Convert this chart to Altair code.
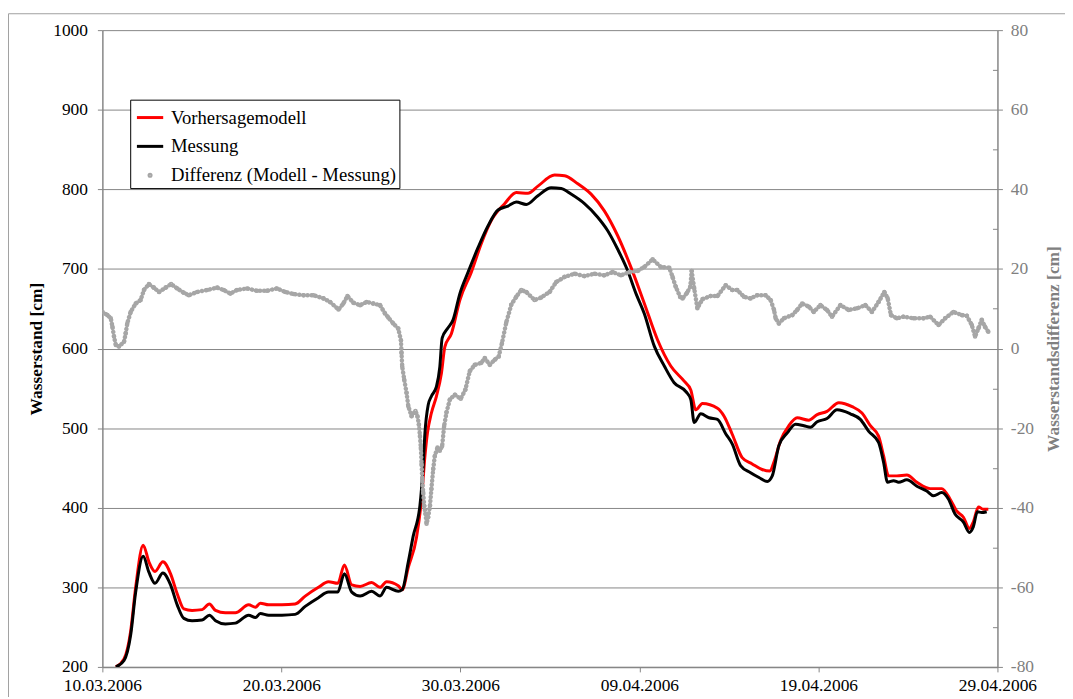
import altair as alt
import pandas as pd

# ---------------- data ----------------
TICK_DAYS = [0, 10, 20, 30, 40, 50]
TICK_LABELS = ["10.03.2006", "20.03.2006", "30.03.2006", "09.04.2006", "19.04.2006", "29.04.2006"]
LEFT_TICKS = [200, 300, 400, 500, 600, 700, 800, 900, 1000]
RIGHT_TICKS = [-80, -60, -40, -20, 0, 20, 40, 60, 80]
RIGHT_MINOR = [-70, -50, -30, -10, 10, 30, 50, 70]

SERIES = ["Vorhersagemodell", "Messung", "Differenz (Modell - Messung)"]
COLORS = ["#ff0000", "#000000", "#a6a6a6"]

# days since 10.03.2006
MOD_DAY = [0.75, 1.21, 1.58, 1.86, 2.28, 2.60, 2.94, 3.38, 3.81, 4.18, 4.55, 5.01, 5.57, 5.98, 6.32,
           6.87, 7.43, 8.17, 8.55, 8.82, 9.29, 10.03, 10.77, 11.33, 12.07, 12.63, 13.15, 13.52, 13.93,
           14.40, 15.04, 15.51, 15.88, 16.53, 16.75, 17.09, 17.55, 17.83, 18.02, 18.16, 18.38, 18.66,
           18.94, 19.13, 19.50, 19.97, 20.61, 21.17, 21.73, 22.47, 23.12, 23.77, 24.33, 25.26, 25.82,
           26.56, 27.30, 28.04, 28.78, 29.53, 30.27, 31.01, 31.75, 32.50, 32.87, 33.15, 33.52, 34.36,
           34.73, 35.19, 35.74, 36.30, 36.85, 37.29, 37.51, 37.88, 38.35, 38.81, 39.46, 39.93, 40.48,
           41.14, 41.88, 42.43, 42.90, 43.36, 43.64, 43.92, 44.38, 44.94, 45.50, 46.24, 46.89, 47.35,
           47.72, 48.10, 48.43, 48.65, 48.94, 49.21, 49.49]
MOD_VAL = [200, 210, 245, 300, 353, 332, 320, 332, 317, 292, 273, 271, 272, 279, 271,
           268, 268, 278, 275, 280, 278, 278, 279, 289, 300, 307, 305, 328, 303,
           301, 306, 300, 307, 302, 297, 325, 363, 411, 465, 494, 519, 540,
           569, 602, 619, 661, 696, 732, 761, 782, 796, 795, 804, 818, 817,
           807, 794, 773, 742, 702, 657, 611, 578, 559, 548, 523, 531, 525,
           515, 492, 463, 455, 448, 446, 457, 484, 503, 513, 510, 517, 521,
           532, 527, 519, 503, 490, 465, 440, 440, 441, 432, 424, 424, 411,
           396, 388, 374, 382, 401, 398, 398]

MES_DAY = [0.75, 1.21, 1.58, 1.86, 2.28, 2.60, 2.94, 3.38, 3.81, 4.18, 4.55, 5.01, 5.57, 5.98, 6.32,
           6.87, 7.43, 8.17, 8.55, 8.82, 9.29, 10.03, 10.77, 11.33, 12.07, 12.63, 13.15, 13.52, 13.93,
           14.40, 15.04, 15.51, 15.88, 16.53, 16.75, 17.09, 17.36, 17.74, 17.92, 18.02, 18.20, 18.38,
           18.66, 18.85, 18.98, 19.31, 19.59, 19.97, 20.43, 20.99, 21.54, 22.10, 22.66, 23.12, 23.68,
           24.33, 25.07, 25.63, 26.18, 26.93, 27.67, 28.23, 28.78, 29.34, 29.81, 30.27, 30.83, 31.39,
           31.94, 32.59, 32.87, 33.06, 33.43, 33.89, 34.36, 34.82, 35.19, 35.65, 36.21, 36.68, 37.14,
           37.42, 37.79, 38.26, 38.72, 39.19, 39.55, 39.93, 40.48, 41.04, 41.78, 42.34, 42.81, 43.36,
           43.64, 43.86, 44.20, 44.48, 44.94, 45.50, 46.05, 46.43, 46.89, 47.26, 47.63, 48.10, 48.43,
           48.65, 48.88, 49.12, 49.40]
MES_VAL = [200, 208, 240, 294, 339, 319, 305, 318, 303, 278, 261, 258, 259, 265, 258,
           254, 255, 265, 262, 267, 265, 265, 266, 276, 287, 294, 294, 317, 294,
           289, 295, 289, 300, 295, 297, 332, 364, 403, 453, 494, 529, 540,
           552, 577, 613, 626, 636, 669, 696, 727, 754, 774, 779, 784, 781,
           792, 802, 801, 794, 782, 765, 748, 725, 698, 669, 644, 603, 578,
           557, 546, 536, 507, 518, 513, 511, 493, 480, 453, 444, 438, 433,
           440, 478, 494, 505, 503, 501, 508, 512, 523, 518, 511, 496, 482,
           457, 432, 434, 432, 435, 427, 421, 415, 419, 411, 392, 382, 369,
           376, 395, 394, 395]

DIF_DAY = [0.00, 0.28, 0.47, 0.56, 0.65, 0.75, 0.93, 1.21, 1.30, 1.39, 1.58, 1.86, 2.14, 2.32, 2.60,
           2.88, 3.16, 3.53, 3.84, 4.18, 4.55, 4.83, 5.29, 5.85, 6.41, 6.78, 7.15, 7.52, 8.08, 8.64,
           9.19, 9.75, 10.22, 10.68, 11.24, 11.79, 12.35, 12.72, 13.19, 13.46, 13.69, 14.02, 14.40,
           14.76, 15.14, 15.51, 15.79, 15.97, 16.25, 16.53, 16.68, 16.71, 16.75, 16.86, 16.99, 17.09,
           17.27, 17.49, 17.60, 17.68, 17.74, 17.79, 17.83, 17.87, 17.92, 17.98, 18.05, 18.11, 18.20,
           18.30, 18.38, 18.48, 18.57, 18.72, 18.85, 18.98, 19.09, 19.22, 19.41, 19.69, 20.02, 20.28,
           20.52, 20.80, 21.17, 21.36, 21.64, 21.92, 22.14, 22.32, 22.56, 22.84, 23.12, 23.40, 23.68,
           24.14, 24.51, 24.98, 25.35, 25.82, 26.37, 26.93, 27.49, 28.04, 28.51, 28.97, 29.44, 29.90,
           30.27, 30.74, 31.20, 31.67, 31.85, 32.03, 32.27, 32.41, 32.66, 32.84, 32.92, 33.06, 33.24,
           33.52, 33.98, 34.36, 34.82, 35.19, 35.47, 35.84, 36.21, 36.58, 37.05, 37.33, 37.52, 37.61,
           37.79, 38.07, 38.54, 38.81, 39.09, 39.47, 39.74, 40.11, 40.48, 40.76, 41.23, 41.69, 42.16,
           42.62, 42.99, 43.36, 43.68, 43.87, 44.05, 44.38, 44.75, 45.31, 45.87, 46.24, 46.71, 47.08,
           47.54, 48.01, 48.29, 48.57, 48.75, 48.94, 49.12, 49.30, 49.49]
DIF_VAL = [9.2, 8.4, 7.6, 5.5, 3.0, 0.9, 0.5, 1.7, 3.8, 6.3, 9.2, 11.3, 12.2, 14.7, 16.2,
           15.3, 14.2, 15.3, 16.2, 15.1, 14.0, 13.4, 14.2, 14.7, 15.3, 14.7, 13.8, 14.7, 15.1, 14.5,
           14.5, 15.1, 14.2, 13.7, 13.4, 13.4, 12.6, 11.7, 9.8, 11.3, 13.2, 11.5, 10.9,
           11.7, 11.3, 10.9, 8.8, 7.8, 6.3, 5.0, 2.0, -1.1, -4.5, -7.8, -11.1, -14.5,
           -17.0, -15.7, -17.0, -19.1, -22.0, -24.9, -29.0, -32.8, -36.1, -39.5, -41.5, -44.0, -42.4,
           -39.5, -35.3, -30.3, -27.0, -24.9, -25.7, -24.5, -19.5, -16.1, -12.8, -11.6, -12.6, -10.3,
           -5.7, -4.1, -3.6, -2.4, -4.1, -2.8, -2.0, 1.3, 6.5, 11.0, 13.0, 14.7, 14.2,
           12.2, 12.8, 14.2, 16.7, 18.0, 18.8, 18.2, 18.8, 18.4, 19.2, 18.4, 19.2, 19.5,
           20.5, 22.4, 20.5, 20.3, 18.0, 15.5, 13.0, 12.6, 14.0, 15.5, 19.5, 15.1, 10.1,
           12.4, 13.2, 13.2, 15.9, 14.7, 14.7, 13.0, 12.6, 13.4, 13.4, 12.2, 9.7, 7.6,
           6.3, 7.6, 8.4, 9.7, 11.3, 10.5, 9.2, 10.9, 9.7, 8.0, 10.9, 9.7, 10.1,
           10.9, 9.2, 11.7, 14.2, 12.6, 8.4, 7.6, 8.0, 7.6, 7.6, 8.0, 5.9, 7.6,
           9.2, 8.4, 8.2, 5.9, 3.0, 5.1, 7.2, 5.5, 4.2]

# ---------------- tables ----------------
mod_df = pd.DataFrame({"day": MOD_DAY, "value": MOD_VAL, "series": SERIES[0]})
mes_df = pd.DataFrame({"day": MES_DAY, "value": MES_VAL, "series": SERIES[1]})
dif_df = pd.DataFrame({"day": DIF_DAY, "diff": DIF_VAL, "series": SERIES[2]})
frame_df = pd.DataFrame({"k": [0]})

# ---------------- styling ----------------
FONT = "Liberation Serif"
FS = 17.5
AXIS_GRAY = "#868686"
RIGHT_GRAY = "#808080"
W, H = 901, 641

LINE_SHAPE = "M-1,0H1"
DOT_SHAPE = "M0.08,0A0.08,0.08,0,1,1,-0.08,0A0.08,0.08,0,1,1,0.08,0Z"

x_label_expr = "[" + ",".join("'%s'" % s for s in TICK_LABELS) + "][round(datum.value / 10)]"
num_label_expr = "'' + datum.value"

x_enc = alt.X(
    "day:Q",
    scale=alt.Scale(domain=[0, 50], nice=False, zero=False),
    axis=alt.Axis(values=TICK_DAYS, labelExpr=x_label_expr, title=None, grid=False,
                  tickSize=5, tickColor=AXIS_GRAY, domainColor=AXIS_GRAY, domainWidth=1.5,
                  labelFont=FONT, labelFontSize=FS, labelColor="black", labelPadding=5,
                  labelFlush=False, labelOverlap=False),
)

legend = alt.Legend(
    title=None, orient="none", legendX=28, legendY=70,
    fillColor="white", strokeColor="black",
    padding=3, rowPadding=4, symbolSize=700, symbolStrokeWidth=3,
    symbolOffset=2, labelOffset=6, symbolOpacity=1,
    labelFont=FONT, labelFontSize=18.8, labelColor="black", labelLimit=400,
)
color_enc = alt.Color("series:N", scale=alt.Scale(domain=SERIES, range=COLORS), legend=legend)
shape_enc = alt.Shape("series:N", scale=alt.Scale(domain=SERIES, range=[LINE_SHAPE, LINE_SHAPE, DOT_SHAPE]),
                      legend=legend)

y_left = alt.Y(
    "value:Q",
    scale=alt.Scale(domain=[200, 1000], nice=False, zero=False),
    axis=alt.Axis(values=LEFT_TICKS, labelExpr=num_label_expr, title="Wasserstand [cm]", orient="left",
                  titleFont=FONT, titleFontSize=FS, titleFontWeight="bold", titleColor="black",
                  titlePadding=7,
                  grid=True, gridColor=AXIS_GRAY, gridWidth=1,
                  tickSize=5, tickColor=AXIS_GRAY, domainColor=AXIS_GRAY, domainWidth=1.5,
                  labelFont=FONT, labelFontSize=FS, labelColor="black", labelPadding=10),
)

y_right = alt.Y(
    "diff:Q",
    scale=alt.Scale(domain=[-80, 80], nice=False, zero=False),
    axis=alt.Axis(values=RIGHT_TICKS, labelExpr=num_label_expr, title="Wasserstandsdifferenz [cm]",
                  orient="right",
                  titleFont=FONT, titleFontSize=FS, titleFontWeight="bold", titleColor=RIGHT_GRAY,
                  titleAngle=270, titleBaseline="top", titlePadding=11,
                  grid=False, tickSize=5, tickColor=AXIS_GRAY, domainColor=AXIS_GRAY, domainWidth=1.5,
                  labelFont=FONT, labelFontSize=FS, labelColor=RIGHT_GRAY, labelPadding=8),
)

y_minor = alt.Y(
    "diff:Q",
    scale=alt.Scale(domain=[-80, 80], nice=False, zero=False),
    axis=alt.Axis(values=RIGHT_MINOR, orient="left", offset=-W, labels=False, domain=False,
                  grid=False, ticks=True, tickSize=5, tickColor=AXIS_GRAY, title=None),
)

red_line = alt.Chart(mod_df).mark_line(strokeWidth=3, interpolate="monotone", clip=True).encode(
    x=x_enc, y=y_left, color=color_enc)
black_line = alt.Chart(mes_df).mark_line(strokeWidth=3, interpolate="monotone", clip=True).encode(
    x=x_enc, y=y_left, color=color_enc)
diff_trace = alt.Chart(dif_df).mark_line(
    strokeWidth=4.5, strokeCap="round", strokeJoin="round", strokeDash=[0.1, 4.0], clip=True
).encode(x=x_enc, y=y_right, color=alt.value(COLORS[2]))
diff_dots = alt.Chart(dif_df).mark_point(filled=False, strokeWidth=3, size=400, opacity=1, clip=True).encode(
    x=x_enc, y=y_right, color=color_enc, shape=shape_enc)
minor_ticks = alt.Chart(dif_df).mark_point(opacity=0).encode(x=x_enc, y=y_minor)

frame_v = alt.Chart(frame_df).mark_rule(color="#a0a0a0", strokeWidth=1).encode(
    x=alt.value(-94.5), y=alt.value(-16.5), y2=alt.value(H + 60))
frame_h = alt.Chart(frame_df).mark_rule(color="#a0a0a0", strokeWidth=1).encode(
    x=alt.value(-94.5), x2=alt.value(W + 100), y=alt.value(-16.5))

lines = alt.layer(red_line, black_line)
diffs = alt.layer(diff_dots, diff_trace)

chart = alt.layer(
    lines, diffs, minor_ticks, frame_v, frame_h
).resolve_scale(y="independent").properties(
    width=W, height=H,
    autosize=alt.AutoSizeParams(type="none"),
    padding={"left": 95, "top": 20, "right": 68, "bottom": 28},
    background="white",
).configure(
    font=FONT
).configure_axis(
    labelFont=FONT, titleFont=FONT, labelFontSize=FS, titleFontSize=FS
).configure_legend(
    labelFont=FONT
).configure_view(strokeWidth=0)

chart.save("out.html", embed_options={"renderer": "svg", "actions": False})
